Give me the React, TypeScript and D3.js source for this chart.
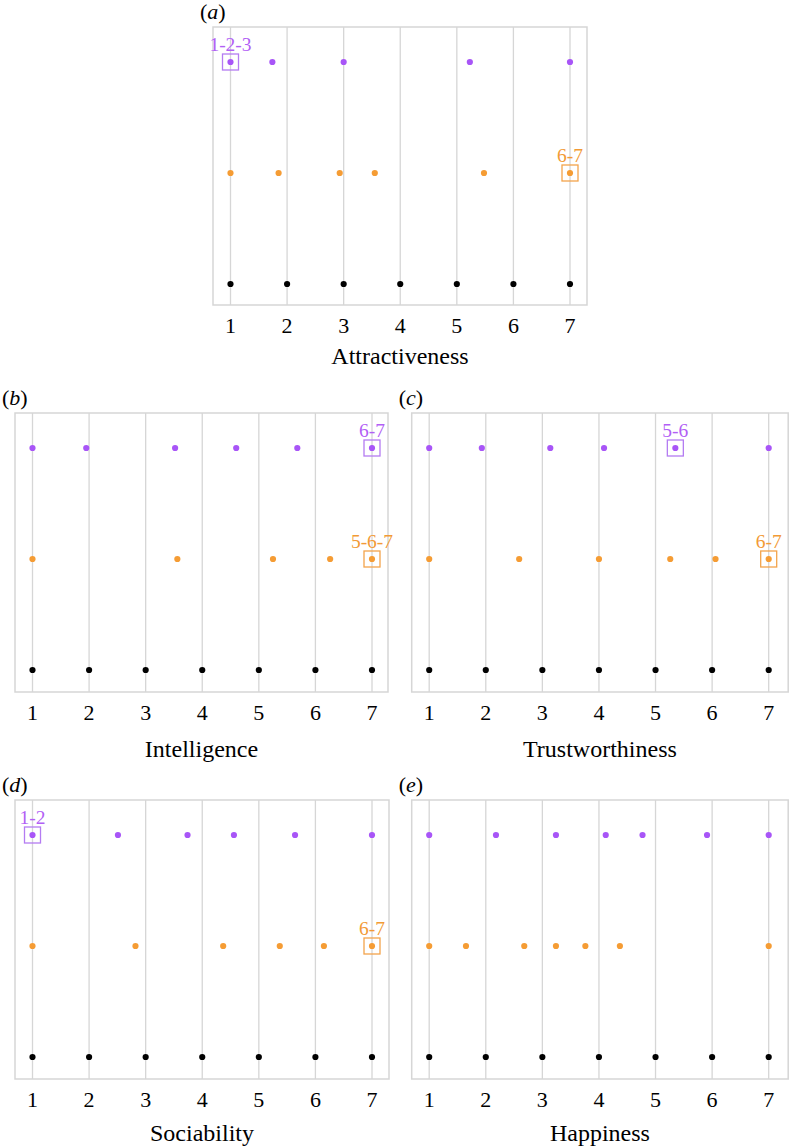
import React from "react";
import * as d3 from "d3";

// traits shown in each panel, in panel order
const traits = ["Attractiveness", "Intelligence", "Trustworthiness", "Sociability", "Happiness"];
const panelTags = ["a", "b", "c", "d", "e"];
const tickValues = [1, 2, 3, 4, 5, 6, 7];
const rowKeys = ["purple", "orange", "black"];

// positions (scale 1..7)
const purpleValues = [
  [1, 1.74, 3.0, 5.23, 7],
  [1, 1.95, 3.52, 4.6, 5.68, 7],
  [1, 1.93, 3.14, 4.09, 5.35, 7],
  [1, 2.51, 3.74, 4.56, 5.64, 7],
  [1, 2.18, 3.24, 4.12, 4.77, 5.91, 7],
];
const orangeValues = [
  [1, 1.85, 2.93, 3.55, 5.48, 7],
  [1, 3.56, 5.25, 6.26, 7],
  [1, 2.59, 4.0, 5.26, 6.06, 7],
  [1, 2.82, 4.37, 5.37, 6.15, 7],
  [1, 1.65, 2.68, 3.24, 3.76, 4.37, 7],
];
const blackValues = [1, 2, 3, 4, 5, 6, 7];

// boxed points with their labels (null = none)
const purpleBoxes = [
  { value: 1, label: "1-2-3" },
  { value: 7, label: "6-7" },
  { value: 5.35, label: "5-6" },
  { value: 1, label: "1-2" },
  null,
];
const orangeBoxes = [
  { value: 7, label: "6-7" },
  { value: 7, label: "5-6-7" },
  { value: 7, label: "6-7" },
  { value: 7, label: "6-7" },
  null,
];

const PURPLE = "#a855f7";
const ORANGE = "#f59c34";
const PURPLE_TXT = "#b25ff5";
const ORANGE_TXT = "#f29a36";
const GRID = "#d6d6d6";
const FONT = "'Liberation Serif', 'Times New Roman', serif";

// frame boxes for the five panels
const layout = [
  { x: 213, y: 27, w: 374, h: 278, titleGap: 59 },
  { x: 15, y: 413, w: 373, h: 279, titleGap: 65 },
  { x: 411.7, y: 413, w: 376.5, h: 279, titleGap: 65 },
  { x: 15, y: 800, w: 374, h: 279, titleGap: 62 },
  { x: 411.7, y: 800, w: 376.5, h: 279, titleGap: 62 },
];

function Panel({ i }: { i: number }) {
  const p = layout[i];
  const x = d3.scaleLinear().domain([1, 7]).range([p.x + 17.5, p.x + 17.5 + 339.5]);
  const y = d3.scalePoint<string>().domain(rowKeys).range([p.y + 35, p.y + 257]);

  const series = [
    { key: "purple", vals: purpleValues[i], color: PURPLE },
    { key: "orange", vals: orangeValues[i], color: ORANGE },
    { key: "black", vals: blackValues, color: "#000" },
  ];
  const boxes = [
    { key: "purple", b: purpleBoxes[i], stroke: "#b47cf2", txt: PURPLE_TXT },
    { key: "orange", b: orangeBoxes[i], stroke: "#f3a44c", txt: ORANGE_TXT },
  ];

  return (
    <g>
      <text x={p.x - 13} y={p.y - 8} fontSize={22} fontFamily={FONT} fill="#000">
        (<tspan fontStyle="italic">{panelTags[i]}</tspan>)
      </text>
      <rect x={p.x} y={p.y} width={p.w} height={p.h} fill="none" stroke={GRID} strokeWidth={1.5} />
      {tickValues.map((t) => (
        <line key={t} x1={x(t)} x2={x(t)} y1={p.y} y2={p.y + p.h} stroke={GRID} strokeWidth={1.3} />
      ))}
      {series.map((s) =>
        s.vals.map((v, j) => (
          <circle key={s.key + j} cx={x(v)} cy={y(s.key)!} r={3.1} fill={s.color} />
        ))
      )}
      {boxes.map((bx) =>
        bx.b ? (
          <g key={bx.key}>
            <rect
              x={x(bx.b.value) - 8}
              y={y(bx.key)! - 8}
              width={16}
              height={16}
              fill="none"
              stroke={bx.stroke}
              strokeWidth={1.3}
            />
            <text
              x={x(bx.b.value)}
              y={y(bx.key)! - 11.5}
              textAnchor="middle"
              fontSize={19.5}
              fontFamily={FONT}
              fill={bx.txt}
            >
              {bx.b.label}
            </text>
          </g>
        ) : null
      )}
      {tickValues.map((t) => (
        <text
          key={"l" + t}
          x={x(t)}
          y={p.y + p.h + 28}
          textAnchor="middle"
          fontSize={22}
          fontFamily={FONT}
          fill="#000"
        >
          {t}
        </text>
      ))}
      <text
        x={p.x + p.w / 2}
        y={p.y + p.h + p.titleGap}
        textAnchor="middle"
        fontSize={24}
        fontFamily={FONT}
        fill="#000"
      >
        {traits[i]}
      </text>
    </g>
  );
}

export default function App() {
  return (
    <svg
      width={791}
      height={1146}
      style={{ position: "absolute", left: 0, top: 0, background: "#fff" }}
    >
      {traits.map((_, i) => (
        <Panel key={i} i={i} />
      ))}
    </svg>
  );
}
